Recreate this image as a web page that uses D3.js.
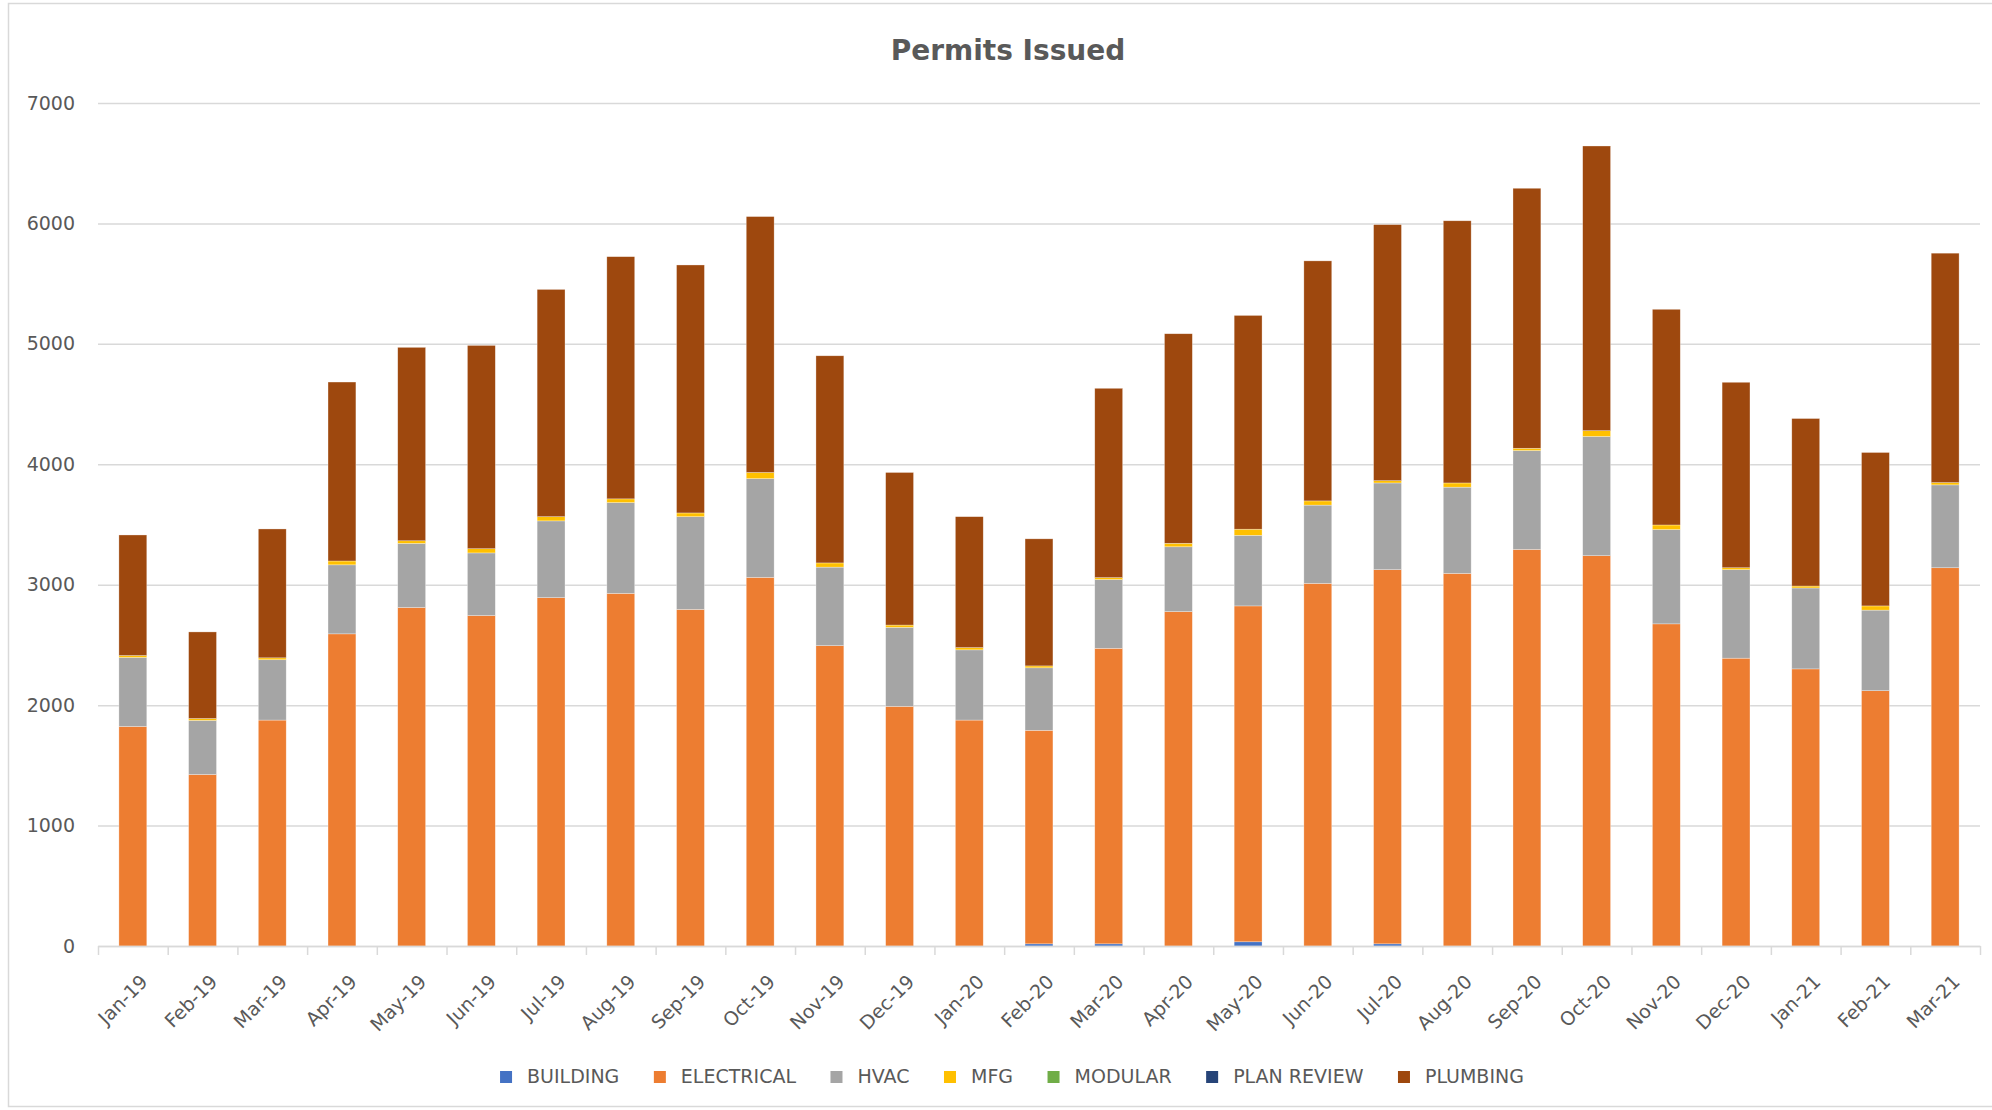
<!DOCTYPE html>
<html>
<head>
<meta charset="utf-8">
<script src="https://cdn.jsdelivr.net/npm/d3@7"></script>
<style>
	html, body { margin: 0; padding: 0; background: #fff; }
	svg { display: block; font-family: "DejaVu Sans", sans-serif; }
	.tick text { fill: #595959; }
</style>
</head>
<body>
<div id="chart"></div>
<script>
const months = ['Jan-19','Feb-19','Mar-19','Apr-19','May-19','Jun-19','Jul-19','Aug-19','Sep-19','Oct-19','Nov-19','Dec-19',
	'Jan-20','Feb-20','Mar-20','Apr-20','May-20','Jun-20','Jul-20','Aug-20','Sep-20','Oct-20','Nov-20','Dec-20',
	'Jan-21','Feb-21','Mar-21'];

const seriesNames = ['BUILDING','ELECTRICAL','HVAC','MFG','MODULAR','PLAN REVIEW','PLUMBING'];
const seriesColors = ['#4472c4','#ed7d31','#a5a5a5','#ffc000','#70ad47','#264478','#9e480e'];

const building = [0,0,0,0,0,0,0,0,0,0,0,0,0,18,18,0,35,0,18,0,0,0,0,0,0,0,0];
const electrical = [1823,1424,1876,2592,2811,2744,2893,2928,2795,3061,2494,1990,1876,1773,2454,2777,2789,3011,3107,3094,3293,3241,2675,2390,2301,2120,3141];
const hvac = [573,449,501,573,532,520,637,754,770,820,652,656,583,519,571,538,586,650,720,716,821,990,783,735,672,669,688];
const mfg = [16,16,16,32,22,35,35,31,31,51,35,19,19,16,16,29,51,35,19,35,19,48,38,16,16,35,19];
const modular = [0,0,0,0,0,0,0,0,0,0,0,0,0,0,0,0,0,0,0,0,0,0,0,0,0,0,0];
const planReview = [0,0,0,0,0,0,0,0,0,0,0,0,0,0,0,0,0,0,0,0,0,0,0,0,0,0,0];
const plumbing = [1001,719,1070,1486,1606,1688,1887,2011,2059,2125,1720,1267,1087,1055,1572,1740,1775,1993,2126,2177,2159,2364,1791,1540,1391,1274,1905];

const yTicks = [0,1000,2000,3000,4000,5000,6000,7000];

const W = 1992, H = 1110;
const plot = { left: 98, right: 1980, top: 103, bottom: 946 };

const svg = d3.select('#chart').append('svg')
	.attr('width', W)
	.attr('height', H);

// chart border
svg.append('rect')
	.attr('x', 8.5).attr('y', 3.5)
	.attr('width', 2100).attr('height', 1103)
	.attr('fill', 'none')
	.attr('stroke', '#d9d9d9')
	.attr('stroke-width', 1.5);

svg.append('text')
	.attr('x', 1008).attr('y', 60)
	.attr('text-anchor', 'middle')
	.attr('font-size', 28)
	.attr('font-weight', 'bold')
	.attr('fill', '#595959')
	.text('Permits Issued');

const rows = months.map((m, i) => ({
	month: m,
	'BUILDING': building[i],
	'ELECTRICAL': electrical[i],
	'HVAC': hvac[i],
	'MFG': mfg[i],
	'MODULAR': modular[i],
	'PLAN REVIEW': planReview[i],
	'PLUMBING': plumbing[i]
}));

const x = d3.scaleBand()
	.domain(months)
	.range([plot.left, plot.right])
	.paddingInner(0.6)
	.paddingOuter(0.3);

const y = d3.scaleLinear()
	.domain([0, 7000])
	.range([plot.bottom, plot.top]);

// gridlines + y labels
const yAxis = svg.append('g')
	.attr('transform', 'translate(' + plot.left + ',0)')
	.call(d3.axisLeft(y).tickValues(yTicks).tickFormat(d3.format('d'))
		.tickSize(-(plot.right - plot.left)).tickPadding(23));
yAxis.select('.domain').remove();
yAxis.selectAll('.tick line').attr('stroke', '#d9d9d9').attr('stroke-width', 1.5);
yAxis.selectAll('.tick text').attr('font-size', 19).attr('font-family', '"DejaVu Sans", sans-serif');

// bars
const stack = d3.stack().keys(seriesNames)(rows);

svg.append('g').selectAll('g')
	.data(stack)
	.join('g')
	.attr('fill', (d, i) => seriesColors[i])
	.selectAll('rect')
	.data(d => d)
	.join('rect')
	.attr('x', d => x(d.data.month))
	.attr('width', x.bandwidth())
	.attr('y', d => y(d[1]))
	.attr('height', d => y(d[0]) - y(d[1]))
	.attr('stroke', '#fff')
	.attr('stroke-opacity', 0.5)
	.attr('stroke-width', 0.6);

// x axis line and category boundary ticks
const xEdges = d3.scaleLinear().domain([0, months.length]).range([plot.left, plot.right]);
const xTickAxis = svg.append('g')
	.attr('transform', 'translate(0,' + plot.bottom + ')')
	.call(d3.axisBottom(xEdges).tickValues(d3.range(months.length + 1)).tickSize(9).tickSizeOuter(0).tickFormat(''));
xTickAxis.select('.domain').attr('stroke', '#d9d9d9').attr('stroke-width', 1.5);
xTickAxis.selectAll('.tick line').attr('stroke', '#d9d9d9').attr('stroke-width', 1.5);

// x labels
const xAxis = svg.append('g')
	.attr('transform', 'translate(0,' + plot.bottom + ')')
	.call(d3.axisBottom(x).tickSize(0).tickPadding(0));
xAxis.select('.domain').remove();
xAxis.selectAll('.tick text')
	.attr('font-size', 19)
	.attr('font-family', '"DejaVu Sans", sans-serif')
	.attr('text-anchor', 'end')
	.attr('dy', 0)
	.attr('y', 0)
	.attr('transform', 'translate(16,37) rotate(-45)');

// legend
const legend = svg.append('g').attr('transform', 'translate(0,1083)');
const items = legend.selectAll('g')
	.data(seriesNames)
	.join('g');
items.append('rect')
	.attr('y', -12)
	.attr('width', 12).attr('height', 12)
	.attr('fill', (d, i) => seriesColors[i]);
items.append('text')
	.attr('x', 27)
	.attr('font-size', 19)
	.attr('fill', '#595959')
	.text(d => d);

let offset = 0;
const widths = [];
items.each(function () {
	const w = 27 + this.querySelector('text').getComputedTextLength();
	widths.push(w);
});
const gap = 34.5;
const total = d3.sum(widths) + gap * (widths.length - 1);
offset = 1012 - total / 2;
items.attr('transform', (d, i) => {
	const t = 'translate(' + offset + ',0)';
	offset += widths[i] + gap;
	return t;
});
</script>
</body>
</html>
